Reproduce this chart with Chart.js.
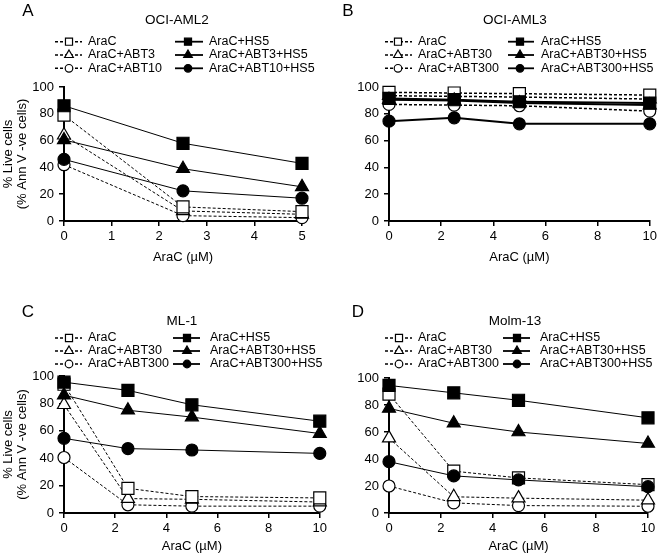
<!DOCTYPE html>
<html>
<head>
<meta charset="utf-8">
<script src="https://cdn.jsdelivr.net/npm/chart.js@4/dist/chart.umd.min.js"></script>
<style>
  body { margin: 0; background: #fff; }
  #wrap { position: relative; width: 660px; height: 558px; }
  canvas { position: absolute; }
</style>
</head>
<body>
<div id="wrap">
  <canvas id="cA" width="330" height="279" style="left:0;top:0"></canvas>
  <canvas id="cB" width="330" height="279" style="left:330px;top:0"></canvas>
  <canvas id="cC" width="330" height="279" style="left:0;top:279px"></canvas>
  <canvas id="cD" width="330" height="279" style="left:330px;top:279px"></canvas>
</div>
<script>
// AraC doses (uM)
const dosesA = [0, 2.5, 5];
const dosesBCD = [0, 2.5, 5, 10];

// Panel A - OCI-AML2
const labelsA = ["AraC", "AraC+ABT3", "AraC+ABT10", "AraC+HS5", "AraC+ABT3+HS5", "AraC+ABT10+HS5"];
const aAraC = [79, 10.5, 7];
const aABT3 = [64, 7.5, 5];
const aABT10 = [42, 4, 2.5];
const aHS5 = [86, 58, 43];
const aABT3HS5 = [60.5, 39, 25.5];
const aABT10HS5 = [46, 22.5, 17];

// Panels B-D share legend labels
const labelsBCD = ["AraC", "AraC+ABT30", "AraC+ABT300", "AraC+HS5", "AraC+ABT30+HS5", "AraC+ABT300+HS5"];

// Panel B - OCI-AML3
const bAraC = [96, 95.5, 95, 94];
const bABT30 = [93.5, 93, 92.5, 91];
const bABT300 = [87, 86.5, 86, 82];
const bHS5 = [91.5, 90.5, 89, 88];
const bABT30HS5 = [90.5, 90, 88, 86.5];
const bABT300HS5 = [74.5, 77, 72.5, 72.5];

// Panel C - ML-1
const cAraC = [94, 18, 12, 11];
const cABT30 = [79, 10.5, 10, 8];
const cABT300 = [40.5, 6, 5, 5];
const cHS5 = [95.5, 89.5, 79, 67];
const cABT30HS5 = [86, 75, 70, 58];
const cABT300HS5 = [54.5, 47, 46, 43.5];

// Panel D - Molm-13
const dAraC = [88, 31, 26, 21];
const dABT30 = [55.5, 12, 11, 9.5];
const dABT300 = [20, 7.5, 5.5, 5];
const dHS5 = [94.5, 89, 83.5, 70.5];
const dABT30HS5 = [77.5, 66.5, 60, 51.5];
const dABT300HS5 = [38, 27.5, 24.5, 19.5];

const FONT = "Arial, 'Liberation Sans', sans-serif";
const shapes = ["rect", "triangle", "circle"];
const radii = { rect: 8.5, triangle: 7.5, circle: 6 };
const legRadii = { rect: 5, triangle: 5, circle: 3.8 };

function toPoints(xs, ys) {
    return xs.map((x, i) => ({ x: x, y: ys[i] }));
}

function makeDatasets(xs, labels, series, solidWidth, dashWidth) {
    return series.map((ys, i) => {
        const filled = i >= 3;
        const shape = shapes[i % 3];
        return {
            label: labels[i],
            data: toPoints(xs, ys),
            borderColor: "#000",
            backgroundColor: filled ? "#000" : "#fff",
            borderWidth: filled ? solidWidth : dashWidth,
            borderDash: filled ? [] : [3, 2],
            pointStyle: shape,
            pointRadius: radii[shape],
            pointBorderWidth: 1.2,
            pointBackgroundColor: filled ? "#000" : "#fff",
            pointBorderColor: "#000",
            tension: 0,
            clip: false,
            order: filled ? 0 : 1
        };
    });
}

// Panel letter, title and the two-column legend
const decoPlugin = {
    id: "deco",
    afterDraw(chart, args, o) {
        const ctx = chart.ctx;
        ctx.save();
        ctx.fillStyle = "#000";
        ctx.textBaseline = "middle";
        ctx.textAlign = "center";
        ctx.font = "17px " + FONT;
        ctx.fillText(o.letter, o.letterX, o.letterY);
        ctx.font = "13.5px " + FONT;
        ctx.fillText(o.title, o.titleX, o.titleY);

        ctx.font = "12.5px " + FONT;
        ctx.textAlign = "left";
        chart.data.datasets.forEach((ds, i) => {
            const c = o.cols[i < 3 ? 0 : 1];
            const y = o.rows[i % 3];
            ctx.strokeStyle = "#000";
            ctx.lineWidth = i < 3 ? 1.5 : 1.8;
            ctx.setLineDash(i < 3 ? [3, 2] : []);
            ctx.beginPath();
            ctx.moveTo(c.x1, y);
            ctx.lineTo(c.x2, y);
            ctx.stroke();
            ctx.setLineDash([]);
            ctx.fillStyle = ds.pointBackgroundColor;
            ctx.lineWidth = 1.2;
            Chart.helpers.drawPoint(ctx, {
                pointStyle: ds.pointStyle,
                radius: legRadii[ds.pointStyle],
                rotation: 0,
                borderWidth: 1.2
            }, c.mx, y);
            ctx.fillStyle = "#000";
            ctx.fillText(ds.label, c.tx, y);
        });
        ctx.restore();
    }
};

function makeChart(id, p) {
    const ca = p.area;
    new Chart(document.getElementById(id), {
        type: "line",
        data: { datasets: p.datasets },
        plugins: [decoPlugin],
        options: {
            responsive: false,
            animation: false,
            devicePixelRatio: 1,
            layout: { padding: { left: 0, top: ca.top, right: 330 - ca.right, bottom: 0 } },
            plugins: {
                legend: { display: false },
                tooltip: { enabled: false },
                deco: p.deco
            },
            scales: {
                x: {
                    type: "linear",
                    min: 0,
                    max: p.xMax,
                    afterFit: s => { s.height = 279 - ca.bottom; },
                    ticks: { stepSize: p.xStep, color: "#000", font: { size: 13, family: FONT }, padding: 3 },
                    grid: { display: true, drawOnChartArea: false, drawTicks: true, tickLength: 5, color: "#000", lineWidth: 1.5 },
                    border: { display: true, color: "#000", width: 2 },
                    title: {
                        display: true,
                        text: "AraC (\u00b5M)",
                        color: "#000",
                        font: { size: 13, family: FONT },
                        padding: { top: 0, bottom: p.xTitlePad }
                    }
                },
                y: {
                    min: 0,
                    max: 100,
                    afterFit: s => { s.width = ca.left; },
                    ticks: { stepSize: 20, color: "#000", font: { size: 13, family: FONT }, padding: 5 },
                    grid: { display: true, drawOnChartArea: false, drawTicks: true, tickLength: 5, color: "#000", lineWidth: 1.5 },
                    border: { display: true, color: "#000", width: 2 },
                    title: {
                        display: p.yTitle,
                        text: ["% Live cells", "(% Ann V -ve cells)"],
                        color: "#000",
                        font: { size: 13, family: FONT, lineHeight: 1.1 },
                        padding: { top: 1, bottom: 0 }
                    }
                }
            }
        }
    });
}

const legTop = { rows: [41.7, 55, 68.3] };
const legBottom = { rows: [59, 72, 85] };

makeChart("cA", {
    area: { left: 64, right: 302, top: 87, bottom: 221 },
    xMax: 5, xStep: 1, xTitlePad: 14, yTitle: true,
    datasets: makeDatasets(dosesA, labelsA, [aAraC, aABT3, aABT10, aHS5, aABT3HS5, aABT10HS5], 1, 1),
    deco: {
        letter: "A", letterX: 28, letterY: 11, title: "OCI-AML2", titleX: 177, titleY: 20,
        rows: legTop.rows,
        cols: [{ x1: 55, x2: 82, mx: 69, tx: 88 }, { x1: 175, x2: 203, mx: 188, tx: 209 }]
    }
});

makeChart("cB", {
    area: { left: 59, right: 321, top: 87, bottom: 221 },
    xMax: 10, xStep: 2, xTitlePad: 14, yTitle: false,
    datasets: makeDatasets(dosesBCD, labelsBCD, [bAraC, bABT30, bABT300, bHS5, bABT30HS5, bABT300HS5], 2, 1.5),
    deco: {
        letter: "B", letterX: 18, letterY: 11, title: "OCI-AML3", titleX: 185, titleY: 20,
        rows: legTop.rows,
        cols: [{ x1: 55, x2: 82, mx: 68, tx: 88 }, { x1: 178, x2: 204, mx: 190, tx: 211 }]
    }
});

makeChart("cC", {
    area: { left: 64, right: 322, top: 97, bottom: 234 },
    xMax: 10, xStep: 2, xTitlePad: 4, yTitle: true,
    datasets: makeDatasets(dosesBCD, labelsBCD, [cAraC, cABT30, cABT300, cHS5, cABT30HS5, cABT300HS5], 1, 1),
    deco: {
        letter: "C", letterX: 28, letterY: 33, title: "ML-1", titleX: 182, titleY: 42,
        rows: legBottom.rows,
        cols: [{ x1: 55, x2: 82, mx: 69, tx: 88 }, { x1: 173, x2: 200, mx: 187, tx: 210 }]
    }
});

makeChart("cD", {
    area: { left: 59, right: 318, top: 99, bottom: 234 },
    xMax: 10, xStep: 2, xTitlePad: 4, yTitle: false,
    datasets: makeDatasets(dosesBCD, labelsBCD, [dAraC, dABT30, dABT300, dHS5, dABT30HS5, dABT300HS5], 1, 1),
    deco: {
        letter: "D", letterX: 28, letterY: 33, title: "Molm-13", titleX: 185, titleY: 42,
        rows: legBottom.rows,
        cols: [{ x1: 55, x2: 82, mx: 69, tx: 88 }, { x1: 173, x2: 200, mx: 187, tx: 210 }]
    }
});
</script>
</body>
</html>
